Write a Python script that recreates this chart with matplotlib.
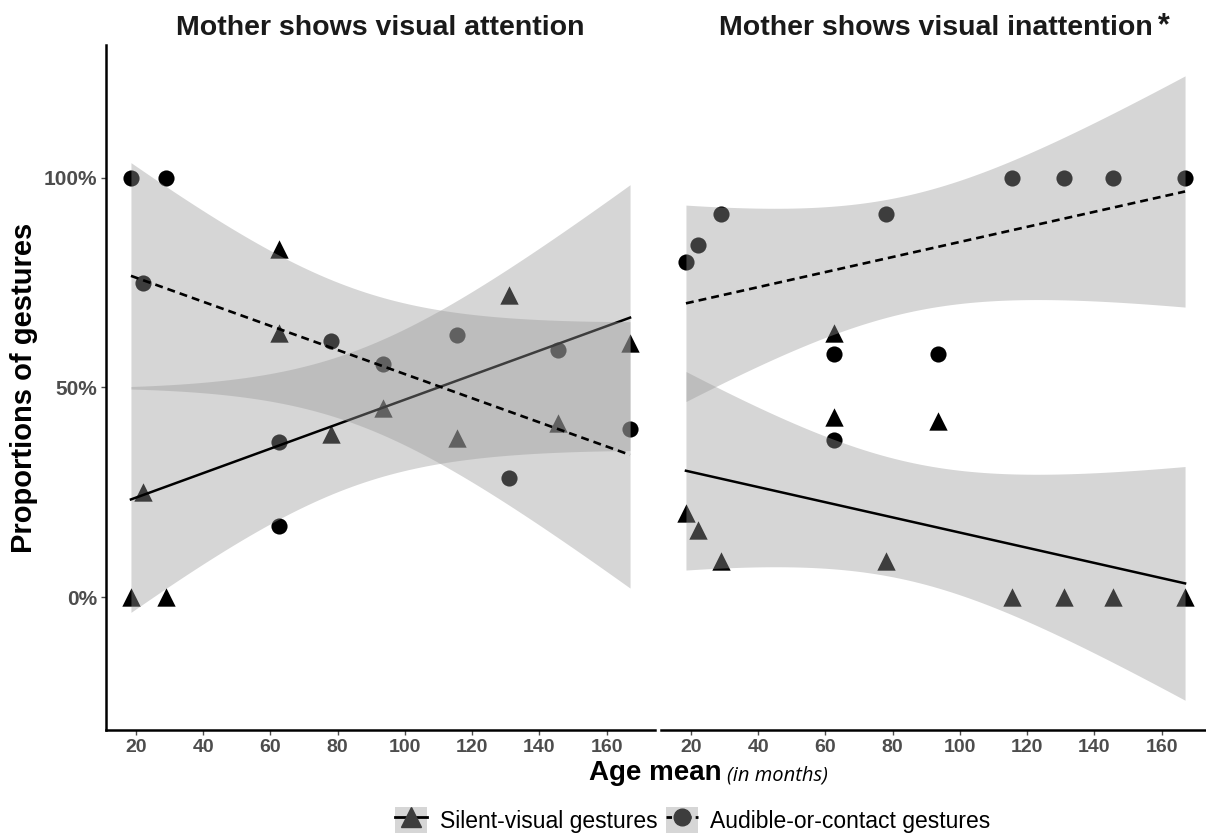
import numpy as np
import matplotlib
matplotlib.use("Agg")
import matplotlib.pyplot as plt
from matplotlib.lines import Line2D
from matplotlib.patches import Patch

plt.rcParams['font.family'] = ['Liberation Sans', 'DejaVu Sans']

# ages (months) shared by both panels
ages = [18.5, 22, 29, 62.5, 62.5, 78, 93.5, 115.5, 131, 145.5, 167]

# Mother shows visual attention
att_silent = [0.0, 0.25, 0.0, 0.83, 0.63, 0.39, 0.45, 0.38, 0.72, 0.415, 0.605]
att_audible = [1.0, 0.75, 1.0, 0.17, 0.37, 0.61, 0.555, 0.625, 0.285, 0.59, 0.40]

# Mother shows visual inattention
inatt_silent = [0.20, 0.16, 0.085, 0.63, 0.43, 0.085, 0.42, 0.0, 0.0, 0.0, 0.0]
inatt_audible = [0.80, 0.84, 0.915, 0.375, 0.58, 0.915, 0.58, 1.0, 1.0, 1.0, 1.0]

panel_titles = ["Mother shows visual attention", "Mother shows visual inattention"]
legend_labels = ["Silent-visual gestures", "Audible-or-contact gestures"]
x_ticks = [20, 40, 60, 80, 100, 120, 140, 160]
y_ticks = [0, 0.5, 1.0]
y_ticklabels = ["0%", "50%", "100%"]

T975 = 2.262  # t quantile, 9 df (11 points, linear fit)


def lm_band(x, y):
    # linear fit with 95% confidence band, like geom_smooth(method="lm")
    x = np.asarray(x, float)
    y = np.asarray(y, float)
    b, a = np.polyfit(x, y, 1)
    res = y - (a + b * x)
    s = np.sqrt((res ** 2).sum() / (len(x) - 2))
    sxx = ((x - x.mean()) ** 2).sum()
    xs = np.linspace(x.min(), x.max(), 80)
    fit = a + b * xs
    se = s * np.sqrt(1 / len(x) + (xs - x.mean()) ** 2 / sxx)
    return xs, fit, fit - T975 * se, fit + T975 * se


fig = plt.figure(figsize=(12.06, 8.36), dpi=100)
W, H = 1206, 836
ax1 = fig.add_axes([106 / W, 1 - 730 / H, 549 / W, 685 / H])
ax2 = fig.add_axes([661 / W, 1 - 730 / H, 549 / W, 685 / H])

ribbon_col = '#999999'
tick_col = '#4d4d4d'

panels = [(ax1, att_silent, att_audible), (ax2, inatt_silent, inatt_audible)]
for ax, silent, audible in panels:
    ax.scatter(ages, silent, marker='^', s=175, color='black', lw=0, zorder=1)
    ax.scatter(ages, audible, marker='o', s=135, color='black', lw=0, zorder=1)

    xs, fit, lo, hi = lm_band(ages, silent)
    ax.fill_between(xs, lo, hi, color=ribbon_col, alpha=0.4, lw=0, zorder=2)
    ax.plot(xs, fit, color='black', lw=1.8, zorder=3)

    xs, fit, lo, hi = lm_band(ages, audible)
    ax.fill_between(xs, lo, hi, color=ribbon_col, alpha=0.4, lw=0, zorder=4)
    ax.plot(xs, fit, color='black', lw=1.9, ls=(0, (3, 1.9)), zorder=5)

    ax.set_xlim(11.075, 174.425)
    ax.set_ylim(-0.317, 1.317)
    ax.set_xticks(x_ticks)
    ax.set_xticklabels([str(t) for t in x_ticks], fontsize=14, fontweight='bold', color=tick_col)
    for sp in ['top', 'right']:
        ax.spines[sp].set_visible(False)
    ax.spines['bottom'].set_linewidth(1.8)
    ax.spines['left'].set_linewidth(1.8)
    ax.tick_params(axis='both', length=3.5, width=1, color=tick_col, pad=3)

ax1.set_yticks(y_ticks)
ax1.set_yticklabels(y_ticklabels, fontsize=15, fontweight='bold', color=tick_col)
ax2.spines['left'].set_visible(False)
ax2.set_yticks([])

for ax, title in zip([ax1, ax2], panel_titles):
    ax.set_title(title, fontsize=20.5, fontweight='bold', color='#1a1a1a', pad=7)
# significance star after the second title, on the same baseline
ax2.annotate('*', xy=(1, 0), xycoords=ax2.title, xytext=(4, 0), textcoords='offset points',
             ha='left', va='bottom', fontsize=22, fontweight='bold', color='#1a1a1a')

ax1.set_ylabel("Proportions of gestures", fontsize=21, fontweight='bold', labelpad=4)

fig.text(655 / W, 1 - 773 / H, "Age mean", fontsize=20, fontweight='bold',
         ha='center', va='center')
fig.text(727 / W, 1 - 775 / H, "(in months)", fontsize=14.5, style='italic',
         family=['Open Sans', 'DejaVu Sans'], ha='left', va='center')

h1 = (Patch(facecolor=ribbon_col, alpha=0.4, edgecolor='none'),
      Line2D([], [], color='black', lw=2, marker='^', markersize=14,
             markerfacecolor='#3d3d3d', markeredgecolor='#3d3d3d'))
h2 = (Patch(facecolor=ribbon_col, alpha=0.4, edgecolor='none'),
      Line2D([], [], color='black', lw=2, ls=(0, (2, 1.5)), marker='o', markersize=12,
             markerfacecolor='#3d3d3d', markeredgecolor='#3d3d3d'))
fig.legend([h1, h2], legend_labels, loc='center', bbox_to_anchor=(693 / W, 1 - 820 / H),
           ncol=2, frameon=False, fontsize=16.5, handlelength=1.4, handleheight=1.4,
           handletextpad=0.55, columnspacing=0.35, borderpad=0.2)

fig.savefig("out.png", dpi=100)
